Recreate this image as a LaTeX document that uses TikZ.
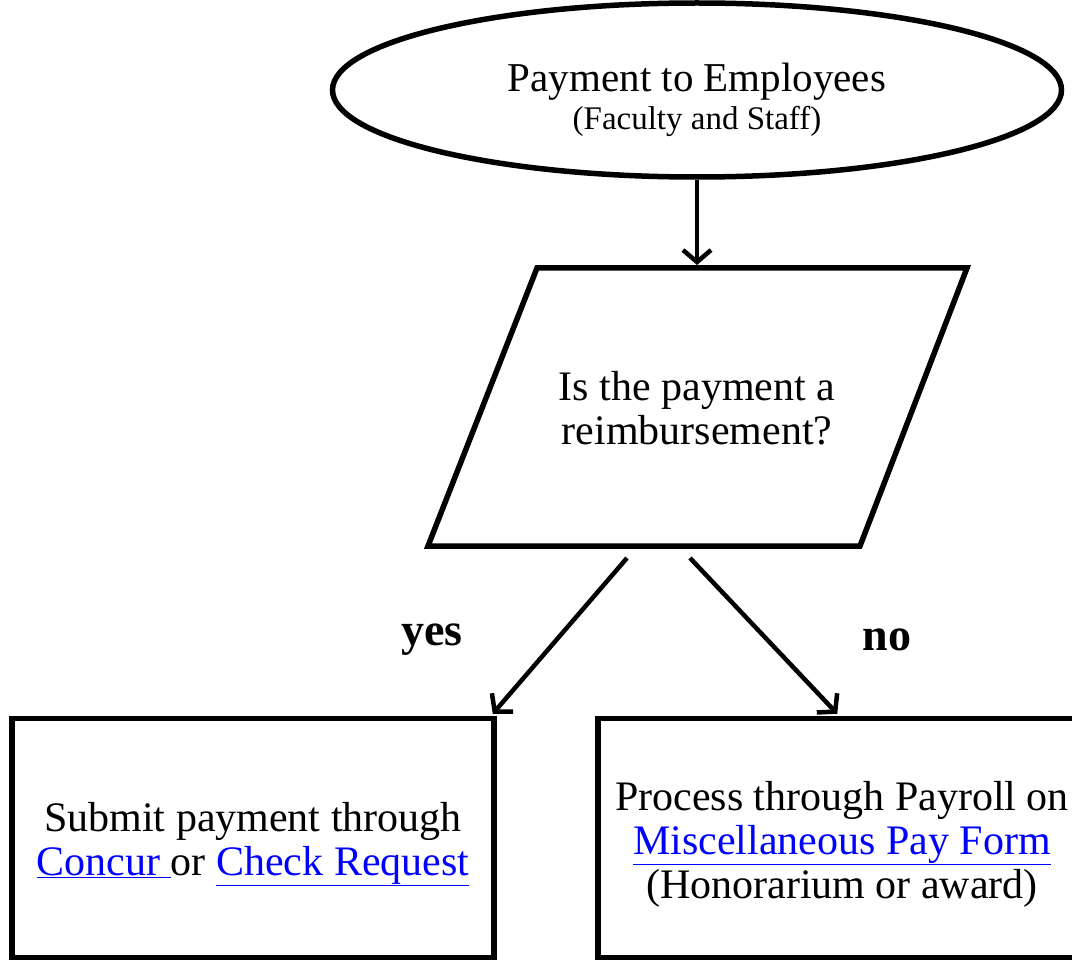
\documentclass[tikz,border=0pt]{standalone}
\usepackage{fontspec}
\setmainfont{Liberation Serif}
\usetikzlibrary{shapes.geometric}
\usetikzlibrary{arrows.meta}
\definecolor{linkblue}{RGB}{0,0,255}
\newcommand{\lnk}[1]{\textcolor{linkblue}{\underline{#1}}}

\begin{document}
\begin{tikzpicture}[x=1pt,y=-1pt,
    every node/.style={align=center, font=\fontsize{42}{44}\selectfont},
    startnode/.style={ellipse, draw, line width=5.5pt, minimum width=729pt, minimum height=174pt, inner sep=0pt},
    boxnode/.style={rectangle, draw, line width=5.5pt, minimum height=239pt, inner sep=0pt},
    answer/.style={font=\fontsize{46}{48}\selectfont\bfseries},
    flow/.style={line width=4.5pt, -{Straight Barb[length=12pt,width=28pt,line width=4.5pt]}}]

    \useasboundingbox (0,0) rectangle (1072,960);

    %===========================
    % Start
    %===========================
    \node[startnode] (emp) at (697,90) {};
    \node[font=\fontsize{41}{44}\selectfont] (emptext) at (697,100) {Payment to Employees\\[-6pt]{\fontsize{33}{36}\selectfont (Faculty and Staff)}};

    %===========================
    % Question
    %===========================
    \coordinate (qbl) at (428,546);
    \coordinate (qtl) at (537,268);
    \coordinate (qtr) at (967,268);
    \coordinate (qbr) at (860,546);
    \draw[line width=5.5pt, line join=miter] (qbl) -- (qtl) -- (qtr) -- (qbr) -- cycle;
    \node (quest) at (697,408) {Is the payment a\\reimbursement?};
    \coordinate (qtop) at (697,265);
    \draw[flow] (emp.south) -- (qtop);

    %===========================
    % Answers
    %===========================
    \node[boxnode, minimum width=482pt] (pay) at (253,838) {};
    \node (paytext) at (253,844) {Submit payment through\\\lnk{Concur\ }or \lnk{Check Request}};
    \node[boxnode, minimum width=488pt] (misc) at (842,838) {};
    \node (misctext) at (842,844) {Process through Payroll on\\\lnk{Miscellaneous Pay Form}\\(Honorarium or award)};

    \coordinate (yesfrom) at (627,558);
    \coordinate (nofrom) at (690,558);
    \draw[flow] (yesfrom) -- ([xshift=-4pt,yshift=2pt]pay.north east);
    \draw[flow] (nofrom) -- ([xshift=242pt,yshift=2pt]misc.north west);

    \node[answer] (yes) at (432,640) {yes};
    \node[answer] (no) at (887,640) {no};
\end{tikzpicture}
\end{document}
